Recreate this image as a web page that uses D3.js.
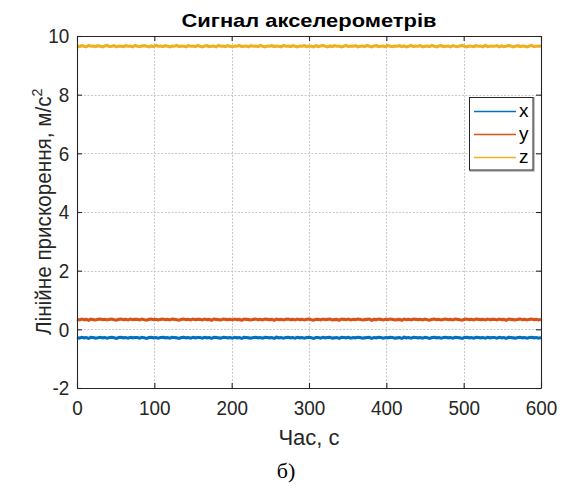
<!DOCTYPE html>
<html><head><meta charset="utf-8">
<script src="https://cdn.jsdelivr.net/npm/d3@7"></script>
<style>body{margin:0;background:#fff}svg{display:block}</style>
</head><body>
<svg id="c" width="564" height="488"></svg>
<script>
const seriesNames = ["x","y","z"];
const seriesColors = ["#0072BD","#D95319","#EDB120"];
const xTicks = [0,100,200,300,400,500,600];
const yTicks = [-2,0,2,4,6,8,10];
const timeStep = 3;
const xValues = [
-0.28,-0.30,-0.27,-0.29,-0.28,-0.31,-0.27,-0.28,-0.30,-0.29,-0.27,-0.29,-0.28,-0.30,-0.28,-0.27,-0.29,-0.31,-0.28,-0.27,
-0.29,-0.28,-0.30,-0.27,-0.29,-0.28,-0.28,-0.30,-0.27,-0.29,-0.31,-0.28,-0.27,-0.29,-0.28,-0.30,-0.28,-0.27,-0.29,-0.28,
-0.30,-0.27,-0.28,-0.29,-0.31,-0.28,-0.27,-0.29,-0.28,-0.30,-0.27,-0.29,-0.28,-0.28,-0.30,-0.27,-0.29,-0.28,-0.31,-0.27,
-0.28,-0.29,-0.30,-0.27,-0.28,-0.29,-0.28,-0.30,-0.27,-0.29,-0.28,-0.31,-0.27,-0.28,-0.29,-0.30,-0.28,-0.27,-0.29,-0.28,
-0.30,-0.27,-0.28,-0.29,-0.28,-0.31,-0.27,-0.29,-0.28,-0.30,-0.28,-0.27,-0.29,-0.28,-0.30,-0.27,-0.29,-0.28,-0.30,-0.28,
-0.27,-0.29,-0.31,-0.28,-0.28,-0.30,-0.27,-0.29,-0.28,-0.27,-0.30,-0.29,-0.28,-0.31,-0.27,-0.28,-0.29,-0.27,-0.30,-0.28,
-0.29,-0.27,-0.28,-0.30,-0.29,-0.28,-0.27,-0.31,-0.28,-0.29,-0.27,-0.28,-0.30,-0.28,-0.29,-0.27,-0.28,-0.30,-0.29,-0.28,
-0.31,-0.27,-0.29,-0.28,-0.30,-0.27,-0.28,-0.29,-0.28,-0.30,-0.27,-0.29,-0.31,-0.28,-0.27,-0.29,-0.28,-0.30,-0.28,-0.27,
-0.29,-0.28,-0.30,-0.27,-0.28,-0.29,-0.31,-0.28,-0.27,-0.29,-0.28,-0.30,-0.27,-0.28,-0.29,-0.28,-0.30,-0.27,-0.29,-0.28,
-0.28,-0.30,-0.27,-0.29,-0.28,-0.31,-0.27,-0.28,-0.29,-0.30,-0.28,-0.27,-0.29,-0.28,-0.30,-0.28,-0.27,-0.29,-0.28,-0.30,
-0.28];
const yValues = [
0.34,0.32,0.35,0.33,0.34,0.31,0.35,0.33,0.32,0.34,0.35,0.33,0.34,0.32,0.34,0.35,0.33,0.31,0.34,0.35,
0.33,0.34,0.32,0.35,0.33,0.34,0.34,0.32,0.35,0.33,0.31,0.34,0.35,0.33,0.34,0.32,0.34,0.35,0.33,0.34,
0.32,0.35,0.34,0.33,0.31,0.34,0.35,0.33,0.34,0.32,0.35,0.33,0.34,0.34,0.32,0.35,0.33,0.34,0.31,0.35,
0.34,0.33,0.32,0.35,0.34,0.33,0.34,0.32,0.35,0.33,0.34,0.31,0.35,0.34,0.33,0.32,0.34,0.35,0.33,0.34,
0.32,0.35,0.34,0.33,0.34,0.31,0.35,0.33,0.34,0.32,0.34,0.35,0.33,0.34,0.32,0.35,0.33,0.34,0.32,0.34,
0.35,0.33,0.31,0.34,0.34,0.32,0.35,0.33,0.34,0.35,0.32,0.33,0.34,0.31,0.35,0.34,0.33,0.35,0.32,0.34,
0.33,0.35,0.34,0.32,0.33,0.34,0.35,0.31,0.34,0.33,0.35,0.34,0.32,0.34,0.33,0.35,0.34,0.32,0.33,0.34,
0.31,0.35,0.33,0.34,0.32,0.35,0.34,0.33,0.34,0.32,0.35,0.33,0.31,0.34,0.35,0.33,0.34,0.32,0.34,0.35,
0.33,0.34,0.32,0.35,0.34,0.33,0.31,0.34,0.35,0.33,0.34,0.32,0.35,0.34,0.33,0.34,0.32,0.35,0.33,0.34,
0.34,0.32,0.35,0.33,0.34,0.31,0.35,0.34,0.33,0.32,0.34,0.35,0.33,0.34,0.32,0.34,0.35,0.33,0.34,0.32,
0.34];
const zValues = [
9.66,9.64,9.67,9.65,9.63,9.68,9.65,9.66,9.64,9.67,9.65,9.63,9.66,9.68,9.64,9.65,9.67,9.63,9.66,9.65,
9.64,9.67,9.65,9.66,9.63,9.68,9.65,9.64,9.66,9.67,9.65,9.63,9.66,9.64,9.68,9.65,9.66,9.64,9.67,9.65,
9.63,9.66,9.65,9.68,9.64,9.66,9.65,9.63,9.67,9.65,9.66,9.64,9.68,9.65,9.63,9.66,9.67,9.64,9.65,9.66,
9.63,9.68,9.65,9.66,9.64,9.67,9.65,9.63,9.66,9.65,9.68,9.64,9.65,9.66,9.63,9.67,9.65,9.66,9.64,9.68,
9.65,9.63,9.66,9.65,9.67,9.64,9.66,9.65,9.63,9.68,9.65,9.66,9.64,9.67,9.65,9.63,9.66,9.65,9.67,9.64,
9.66,9.65,9.63,9.67,9.64,9.66,9.68,9.65,9.63,9.66,9.64,9.67,9.65,9.66,9.63,9.65,9.68,9.64,9.66,9.65,
9.67,9.63,9.65,9.66,9.64,9.68,9.65,9.63,9.66,9.67,9.64,9.65,9.66,9.63,9.68,9.65,9.64,9.66,9.65,9.67,
9.64,9.66,9.63,9.65,9.68,9.64,9.66,9.65,9.67,9.63,9.65,9.66,9.64,9.68,9.65,9.63,9.66,9.67,9.64,9.65,
9.66,9.63,9.67,9.65,9.64,9.66,9.68,9.65,9.63,9.66,9.65,9.64,9.67,9.65,9.66,9.63,9.68,9.64,9.65,9.66,
9.65,9.67,9.63,9.66,9.64,9.65,9.68,9.66,9.63,9.65,9.67,9.64,9.66,9.65,9.63,9.66,9.68,9.64,9.65,9.66,
9.65];
const seriesValues = [xValues, yValues, zValues];

const svg = d3.select("#c");
const L = 77, R = 541, T = 36, B = 388;
const x = d3.scaleLinear().domain([0,600]).range([L,R]);
const y = d3.scaleLinear().domain([-2,10]).range([B,T]);
const font = "'Liberation Sans', Arial, sans-serif";
const plainFmt = d => String(d);

// grid
const g = svg.append("g");
g.selectAll(".gx").data(xTicks.slice(1,-1)).enter().append("line")
  .attr("x1",d=>Math.round(x(d))+0.5).attr("x2",d=>Math.round(x(d))+0.5).attr("y1",T).attr("y2",B)
  .attr("stroke","#c8c8c8").attr("stroke-width",1).attr("stroke-dasharray","2,1.5");
g.selectAll(".gy").data(yTicks.slice(1,-1)).enter().append("line")
  .attr("y1",d=>Math.round(y(d))+0.5).attr("y2",d=>Math.round(y(d))+0.5).attr("x1",L).attr("x2",R)
  .attr("stroke","#c8c8c8").attr("stroke-width",1).attr("stroke-dasharray","2,1.5");

// lines
const line = d3.line().x((d,i)=>x(i*timeStep)).y(d=>y(d));
seriesValues.forEach((vals,k)=>{
  svg.append("path").datum(vals).attr("d",line).attr("fill","none")
    .attr("stroke",seriesColors[k]).attr("stroke-width",3.1).attr("stroke-linejoin","miter");
});

// axes (MATLAB style inward ticks, box)
const tickLen = 5;
const ax = svg.append("g").attr("transform",`translate(0,${B})`)
  .call(d3.axisBottom(x).tickValues(xTicks).tickFormat(plainFmt).tickSizeInner(-tickLen).tickSizeOuter(0).tickPadding(12));
const axT = svg.append("g").attr("transform",`translate(0,${T})`)
  .call(d3.axisTop(x).tickValues(xTicks).tickSizeInner(-tickLen).tickSizeOuter(0).tickFormat(""));
const ay = svg.append("g").attr("transform",`translate(${L},0)`)
  .call(d3.axisLeft(y).tickValues(yTicks).tickFormat(plainFmt).tickSizeInner(-tickLen).tickSizeOuter(0).tickPadding(8.5));
const ayR = svg.append("g").attr("transform",`translate(${R},0)`)
  .call(d3.axisRight(y).tickValues(yTicks).tickSizeInner(-tickLen).tickSizeOuter(0).tickFormat(""));
[ax,axT,ay,ayR].forEach(a=>{
  a.selectAll("path,line").attr("stroke","#262626").attr("stroke-width",1.1);
  a.selectAll("text").attr("fill","#262626").style("font-family",font).style("font-size","21px")
    .attr("transform","scale(0.9,1)");
});

// title
svg.append("text").attr("x",309).attr("y",26.5).attr("text-anchor","middle")
  .attr("textLength",255).attr("lengthAdjust","spacingAndGlyphs")
  .style("font-family",font).style("font-size","19px").style("font-weight","bold").attr("fill","#000")
  .text("Сигнал акселерометрів");

// x label
svg.append("text").attr("x",309).attr("y",445).attr("text-anchor","middle")
  .style("font-family",font).style("font-size","22px").attr("fill","#262626").text("Час, с");

// y label
const yl = svg.append("text").attr("transform","translate(51,335) rotate(-90) scale(0.94,1)").attr("text-anchor","start")
  .style("font-family",font).style("font-size","22px").attr("fill","#262626");
yl.append("tspan").text("Лінійне прискорення, м/с");
yl.append("tspan").attr("dy",-9).style("font-size","15px").text("2");

// caption
svg.append("text").attr("x",286).attr("y",478).attr("text-anchor","middle")
  .style("font-family","'Liberation Serif','Times New Roman',serif").style("font-size","22px").attr("fill","#000").text("б)");

// legend
const lg = svg.append("g");
lg.append("rect").attr("x",470).attr("y",98).attr("width",64).attr("height",73)
  .attr("fill","none").attr("stroke","#9a9a9a").attr("stroke-width",1.2);
lg.append("rect").attr("x",469.5).attr("y",97.5).attr("width",63.5).attr("height",72.5)
  .attr("fill","#fff").attr("stroke","#262626").attr("stroke-width",1);
seriesNames.forEach((n,k)=>{
  const yy = 111.5 + k*23;
  lg.append("line").attr("x1",474).attr("x2",516).attr("y1",yy).attr("y2",yy)
    .attr("stroke",seriesColors[k]).attr("stroke-width",1.3);
  lg.append("text").attr("x",519).attr("y",yy+5.5).style("font-family",font).style("font-size","19px")
    .attr("fill","#000").text(n);
});
</script>
</body></html>
